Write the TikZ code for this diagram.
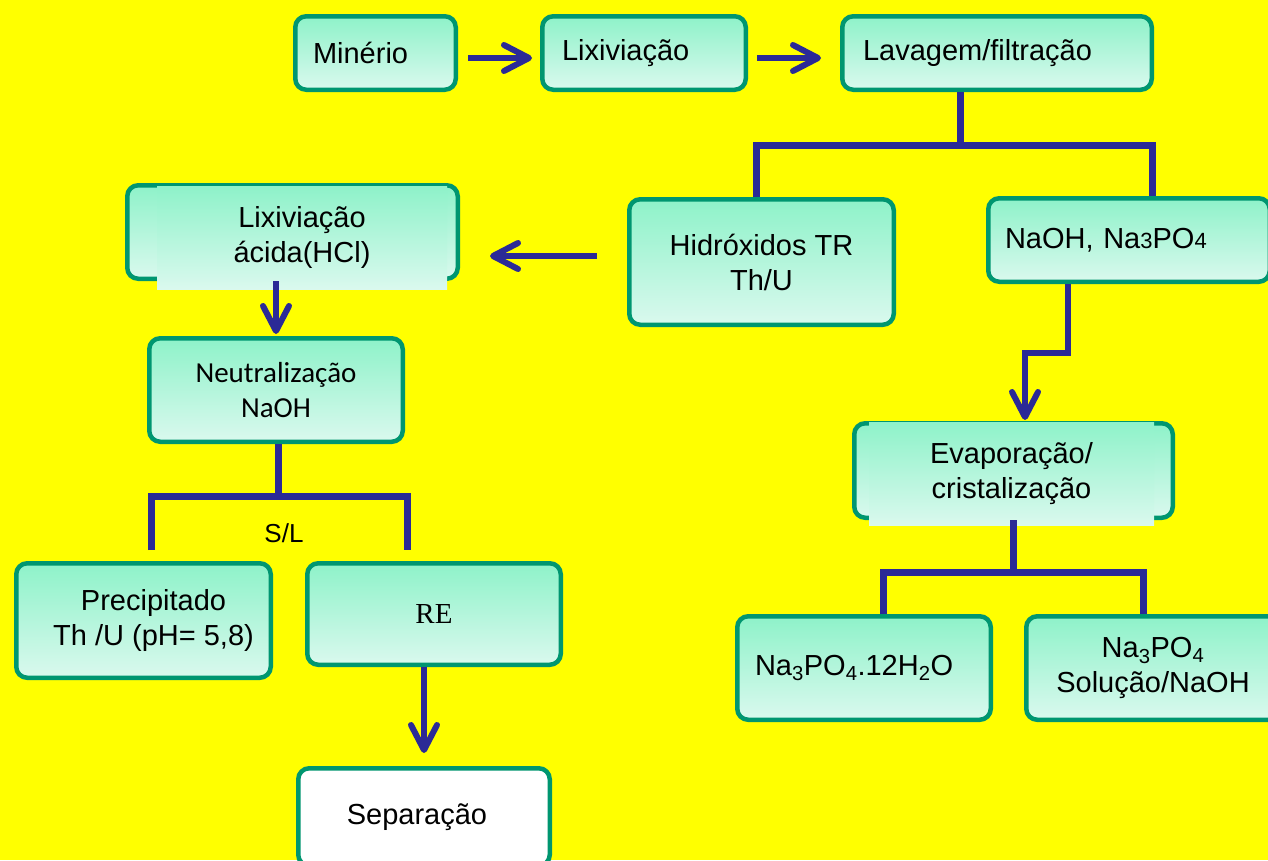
\documentclass[tikz,border=0pt]{standalone}
\usepackage{fontspec}
\setmainfont{Liberation Sans}
\newfontfamily\carlitofont{Carlito}
\newfontfamily\libserif{Liberation Serif}
\usetikzlibrary{arrows.meta}
\definecolor{bgyellow}{RGB}{255,255,0}
\definecolor{bordergreen}{RGB}{0,150,112}
\definecolor{mintT}{RGB}{142,242,201}
\definecolor{mintB}{RGB}{218,249,238}
\definecolor{connblue}{RGB}{43,42,150}
\newcommand\bigtxt{\fontsize{29}{35}\selectfont}
\begin{document}
\begin{tikzpicture}[x=1pt,y=-1pt,
  frame/.style={rectangle, rounded corners=11pt, draw=bordergreen, line width=4.5pt,
    font=\bigtxt, align=center, inner sep=0pt},
  box/.style={frame, top color=mintT, bottom color=mintB},
  patch/.style={rectangle, top color=mintT, bottom color=mintB, font=\bigtxt,
    align=center, inner sep=0pt},
  conn/.style={draw=connblue, line width=7pt},
  arr/.style={draw=connblue, line width=6pt, -{Straight Barb[length=25pt,width=26pt,round]}},
]
\useasboundingbox (0,0) rectangle (1268,860);
\clip (0,0) rectangle (1268,860);
\fill[bgyellow] (0,0) rectangle (1268,860);

% top row
\node[box, minimum width=160.5pt, minimum height=73.5pt, text width=125pt, align=left] (min) at (375.5,53) {Minério};
\node[box, minimum width=203.5pt, minimum height=73.5pt, text width=164pt, align=left] (lix) at (644,53) {Lixiviação};
\node[box, minimum width=309.5pt, minimum height=73.5pt, text width=268pt, align=left] (lav) at (997,53) {Lavagem/filtração};

% second row
\node[box, minimum width=264.5pt, minimum height=125.5pt] (hid) at (761.5,262) {Hidróxidos TR\\Th/U};
\node[box, minimum width=281.5pt, minimum height=83.5pt, text width=248pt, align=left] (naoh) at (1129,240)
  {NaOH, Na{\fontsize{22}{22}\selectfont 3}PO{\fontsize{22}{22}\selectfont 4}};
\node[box, minimum width=330.5pt, minimum height=93.5pt] (lixa) at (292.5,232) {};
\node[patch, minimum width=290pt, minimum height=103pt] (lixat) at (302,237.5) {Lixiviação\\ácida(HCl)};

% left column
\node[box, minimum width=253.5pt, minimum height=103.5pt, font=\carlitofont\bigtxt] (neu) at (276,390) {Neutralização\\NaOH};
\node[box, minimum width=254.5pt, minimum height=114.5pt] (pre) at (143.5,620.5)
  {\hspace*{20pt}Precipitado\\\hspace*{20pt}Th /U (pH= 5,8)};
\node[box, minimum width=253.5pt, minimum height=101.5pt, font=\libserif\bigtxt] (re) at (434,614) {RE};
\node[frame, fill=white, minimum width=251.5pt, minimum height=97.5pt] (sep) at (424,817)
  {Separação\hspace*{14pt}};

% right column
\node[box, minimum width=318.5pt, minimum height=94.5pt] (evap) at (1013.5,470.5) {};
\node[patch, minimum width=285pt, minimum height=103pt] (evapt) at (1011.5,473.5) {Evaporação/\\cristalização};
\node[box, minimum width=253.5pt, minimum height=103.5pt, text width=218pt, align=left] (na12) at (864,668)
  {Na\textsubscript{3}PO\textsubscript{4}.12H\textsubscript{2}O};
\node[box, minimum width=253.5pt, minimum height=103.5pt] (nasol) at (1153,668)
  {Na\textsubscript{3}PO\textsubscript{4}\\Solução/NaOH};

% arrows along top
\draw[arr, shorten <=10pt, shorten >=8pt] ([yshift=-5pt]min.east) -- ([yshift=-5pt]lix.west);
\draw[arr, shorten <=9pt, shorten >=19pt] ([yshift=-5pt]lix.east) -- ([yshift=-5pt]lav.west);

% lavagem tree
\coordinate (lavJ) at (960,145);
\coordinate (lavL) at (756,145);
\coordinate (lavR) at (1152,145);
\draw[conn] (lavJ |- lav.south) -- (lavJ);
\draw[conn] (hid.north -| lavL) -- (lavL) -- (lavR) -- (naoh.north -| lavR);

% hidroxidos -> lixiviacao acida
\coordinate (ay) at (0,256);
\draw[arr, shorten <=30pt, shorten >=30pt] (hid.west |- ay) -- (lixa.east |- ay);

% lixiviacao acida -> neutralizacao
\draw[arr, shorten >=2pt] (lixa.south -| neu.north) -- (neu.north);

% neutralizacao tree
\coordinate (neuJ) at (278,496);
\coordinate (neuL) at (151,496);
\coordinate (neuR) at (407,496);
\coordinate (neuLb) at (151,550);
\coordinate (neuRb) at (407,550);
\draw[conn] (neuJ |- neu.south) -- (neuJ);
\draw[conn] (neuLb) -- (neuL) -- (neuR) -- (neuRb);
\node[font=\fontsize{26}{30}\selectfont] (sl) at (284,533) {S/L};

% RE -> separacao
\draw[arr, shorten >=13pt] (re.south -| sep.north) -- (sep.north);

% NaOH -> evaporacao
\coordinate (nb1) at (1068,353);
\coordinate (nb2) at (1025,353);
\draw[arr, shorten >=1pt] (naoh.south -| nb1) -- (nb1) -- (nb2) -- (evap.north -| nb2);

% evaporacao tree
\coordinate (evJ) at (1013,572);
\coordinate (evL) at (883,572);
\coordinate (evR) at (1143,572);
\draw[conn] (evJ |- evap.south) -- (evJ);
\draw[conn] (na12.north -| evL) -- (evL) -- (evR) -- (nasol.north -| evR);
\end{tikzpicture}
\end{document}
